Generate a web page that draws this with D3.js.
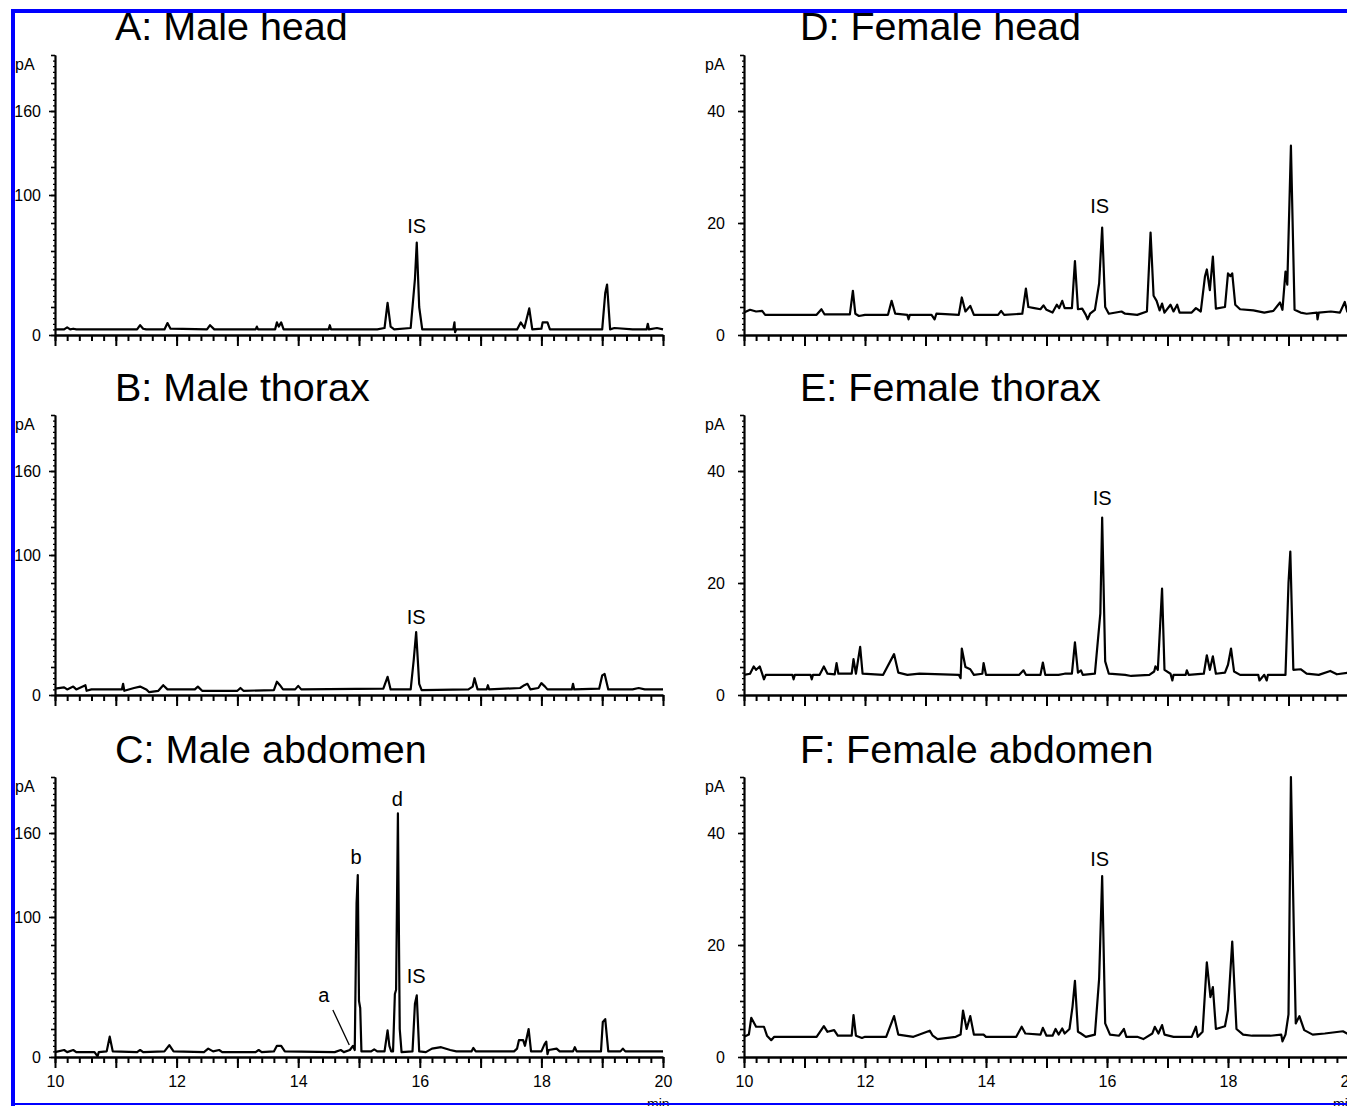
<!DOCTYPE html>
<html>
<head>
<meta charset="utf-8">
<script src="https://cdn.jsdelivr.net/npm/d3@7"></script>
<style>
  body { margin: 0; background: #fff; }
  svg { display: block; }
  text { font-family: "Liberation Sans", Arial, sans-serif; fill: #000; }
</style>
</head>
<body>
<script>
// ---- data: [retention time (min), signal (pA)] ----
var maleHead = [[10.0,4],[10.15,4],[10.2,5.5],[10.25,4],[10.3,4.5],[10.35,4],[11.35,4],[11.4,7],[11.45,4.5],
  [11.5,4],[11.8,4],[11.85,8.5],[11.9,4.5],[12.5,4],[12.55,7],[12.62,4],[13.3,4],[13.32,6],[13.34,4],
  [13.62,4],[13.65,9],[13.68,6],[13.72,9],[13.76,4],[14.5,4],[14.52,7],[14.54,4],[15.3,4],[15.42,5],
  [15.47,23],[15.52,6],[15.58,4],[15.85,5],[15.92,40],[15.95,66],[15.99,20],[16.04,4],[16.55,4],
  [16.57,9],[16.58,2],[16.6,4],[17.6,4],[17.66,9],[17.72,5],[17.8,19],[17.85,4],[18.0,4.5],[18.02,9],
  [18.1,9],[18.14,4],[19.0,4],[19.05,30],[19.08,36],[19.13,4],[19.2,5],[19.5,4],[19.73,4],[19.75,8],
  [19.77,4],[19.9,5],[20,4]];

var maleThorax = [[10,4.5],[10.15,5.5],[10.2,4],[10.3,6],[10.35,4],[10.5,7],[10.52,3],[10.6,4],[11.1,4],
  [11.12,8],[11.14,3],[11.3,5],[11.4,6],[11.5,4],[11.55,2],[11.7,3],[11.78,7],[11.85,4],[12.3,4],
  [12.35,6],[12.42,3],[13.0,3],[13.05,5],[13.1,3],[13.6,3.5],[13.65,9.5],[13.7,7],[13.75,4],[13.95,4],
  [14.0,6.5],[14.05,4],[15.4,4.5],[15.47,13],[15.52,4],[15.85,4],[15.9,25],[15.94,45],[15.99,8],
  [16.03,3.5],[16.8,4],[16.87,6],[16.9,12],[16.95,4],[17.1,4],[17.12,7],[17.14,4],[17.65,5],[17.72,7],
  [17.77,8],[17.82,4],[17.95,5],[18.0,8.5],[18.06,6],[18.1,4],[18.5,4],[18.52,8],[18.54,4],[18.95,4.5],
  [19.0,14],[19.04,15],[19.1,4],[19.5,4],[19.6,5],[19.7,4],[20,4]];

var maleAbdomen = [[10,3.5],[10.15,5],[10.2,3.5],[10.3,5],[10.35,3.5],[10.65,3.5],[10.7,0.5],[10.72,3.5],
  [10.85,4],[10.9,14.5],[10.95,4],[11.35,3.5],[11.4,5],[11.45,3.5],[11.8,4],[11.88,8.5],[11.95,4],
  [12.45,3.5],[12.52,6],[12.6,4],[12.7,5],[12.75,3.5],[13.3,3.5],[13.35,5],[13.4,3.5],[13.6,4],
  [13.65,8],[13.72,8],[13.78,4],[14.6,3.5],[14.7,5],[14.75,3.5],[14.85,5],[14.9,8],[14.93,5],
  [14.96,110],[14.98,130],[15.0,40],[15.02,35],[15.04,4],[15.2,4],[15.25,5.5],[15.3,4],[15.42,4],
  [15.47,19],[15.5,8],[15.53,4],[15.56,4],[15.59,45],[15.61,48],[15.64,174],[15.67,20],[15.7,3.5],
  [15.88,4],[15.92,38],[15.95,44],[15.99,4],[16.1,3.5],[16.2,6],[16.35,7],[16.5,5],[16.6,4],[16.85,4],
  [16.88,6.5],[16.92,4],[17.55,4],[17.6,6],[17.63,12],[17.7,12],[17.73,8],[17.79,20],[17.83,4],
  [18.0,4],[18.05,9],[18.08,11],[18.1,2],[18.12,5],[18.25,6],[18.3,4],[18.52,4],[18.55,7],[18.58,4],
  [18.98,4],[19.01,25],[19.05,27],[19.1,4],[19.3,4],[19.34,6],[19.38,4],[20,4]];

var femaleHead = [[10,4],[10.1,4.5],[10.2,4.2],[10.3,4.3],[10.35,3.6],[11.2,3.6],[11.28,4.6],[11.33,3.7],
  [11.75,3.7],[11.8,7.9],[11.84,3.8],[11.9,3.4],[12.0,3.6],[12.38,3.6],[12.44,6.1],[12.5,3.8],[12.7,3.6],
  [12.72,2.8],[12.74,3.6],[13.1,3.6],[13.15,2.8],[13.18,3.8],[13.55,3.6],[13.6,6.7],[13.66,4.2],
  [13.74,5.2],[13.8,3.6],[14.2,3.6],[14.25,4.3],[14.3,3.6],[14.6,3.8],[14.66,8.3],[14.7,5],[14.8,4.8],
  [14.9,4.6],[14.95,5.3],[15.0,4.5],[15.1,4],[15.17,5.4],[15.21,4.8],[15.26,6.1],[15.3,4.8],[15.42,4.8],
  [15.47,13.2],[15.52,4.6],[15.59,4.7],[15.65,3.6],[15.68,2.8],[15.72,3.8],[15.8,4.5],[15.87,9.2],
  [15.92,19.2],[15.97,5],[16.03,3.8],[16.24,4.2],[16.3,3.8],[16.5,3.6],[16.66,4.2],[16.72,18.3],
  [16.77,7],[16.82,6.1],[16.87,4.4],[16.91,5.6],[16.95,4],[17.05,5.4],[17.1,4.2],[17.16,5.4],[17.2,4],
  [17.4,4],[17.47,4.8],[17.55,4.2],[17.62,10.5],[17.65,11.7],[17.7,8],[17.75,14],[17.8,4.7],[17.95,5],
  [18.0,11],[18.04,10.5],[18.07,11],[18.12,5.4],[18.2,4.6],[18.42,4.4],[18.6,4],[18.75,4.3],[18.86,5.8],
  [18.9,4.5],[18.95,11.3],[18.98,9],[19.04,33.8],[19.1,4.5],[19.2,4],[19.3,3.8],[19.47,4],[19.48,2.8],
  [19.5,4],[19.7,4.2],[19.85,4],[19.93,5.9],[19.97,4.2],[20,4]];

var femaleThorax = [[10,3.6],[10.1,3.8],[10.16,5.1],[10.2,4.5],[10.26,5.1],[10.3,3.8],[10.33,2.8],
  [10.36,3.6],[10.8,3.6],[10.82,2.8],[10.84,3.6],[11.1,3.6],[11.12,2.8],[11.14,3.6],[11.25,3.6],
  [11.32,5.1],[11.38,3.8],[11.5,3.7],[11.53,5.7],[11.56,3.8],[11.78,3.8],[11.81,6.4],[11.85,3.8],
  [11.92,8.6],[11.96,3.8],[12.3,3.6],[12.48,7.3],[12.55,4],[12.7,3.6],[12.9,3.8],[13.55,3.6],[13.58,3],
  [13.6,8.3],[13.66,5],[13.74,4.6],[13.8,3.6],[13.94,3.8],[13.96,5.7],[14.0,3.6],[14.55,3.6],[14.62,4.4],
  [14.66,3.6],[14.9,3.6],[14.94,5.8],[14.98,3.6],[15.2,3.6],[15.3,3.8],[15.42,3.8],[15.47,9.4],[15.52,4],
  [15.57,4.4],[15.6,3.6],[15.8,3.8],[15.89,14.6],[15.92,31.7],[15.97,6],[16.03,3.8],[16.3,3.6],
  [16.4,3.4],[16.7,3.6],[16.78,4.2],[16.8,5.1],[16.84,4.5],[16.91,19],[16.95,4.5],[17.05,3.8],
  [17.08,2.6],[17.1,3.6],[17.3,3.6],[17.32,4.4],[17.35,3.6],[17.6,3.8],[17.65,7.1],[17.7,4.5],
  [17.75,6.9],[17.8,3.8],[17.95,4],[18.0,5.4],[18.05,8.3],[18.1,4.2],[18.2,3.6],[18.5,3.6],[18.52,2.6],
  [18.6,3.6],[18.64,2.6],[18.66,3.6],[18.95,3.6],[19.0,20],[19.03,25.6],[19.08,4.5],[19.2,4.6],
  [19.3,3.8],[19.5,3.6],[19.69,4.3],[19.8,3.7],[20,4]];

var femaleAbdomen = [[10,3.6],[10.08,4],[10.12,7],[10.2,5.4],[10.26,5.4],[10.33,5.4],[10.38,3.8],
  [10.45,3],[10.5,3.6],[11.2,3.6],[11.32,5.5],[11.38,4.5],[11.49,4.8],[11.55,3.8],[11.78,3.8],
  [11.81,7.5],[11.85,3.8],[11.95,3.4],[12.0,3.6],[12.35,3.6],[12.48,7.3],[12.55,4],[12.8,3.6],
  [13.07,4.7],[13.12,3.8],[13.2,3.2],[13.5,3.6],[13.58,4],[13.62,8.3],[13.68,5],[13.74,7.3],[13.8,4],
  [13.96,4],[14.0,3.6],[14.5,3.6],[14.59,5.4],[14.65,4.2],[14.9,4],[14.94,5.2],[15.0,3.8],[15.1,3.8],
  [15.15,5],[15.2,4],[15.26,5.1],[15.3,4.2],[15.38,5],[15.43,9],[15.47,13.6],[15.52,4.5],[15.57,4.2],
  [15.65,3.6],[15.8,4],[15.87,14],[15.92,32.3],[15.97,6],[16.05,4],[16.2,3.8],[16.28,5],[16.32,3.6],
  [16.5,3.6],[16.6,3.2],[16.75,4.2],[16.79,5.4],[16.85,4.2],[16.91,5.7],[16.95,4],[17.1,3.6],
  [17.4,3.6],[17.47,5.4],[17.5,3.6],[17.58,4.5],[17.65,16.9],[17.71,10.7],[17.75,12.5],[17.8,5],
  [17.95,5.5],[18.0,8.4],[18.07,20.6],[18.14,5],[18.25,4],[18.4,3.8],[18.7,3.8],[18.88,4],[18.9,2.8],
  [18.95,4],[19.0,7.6],[19.04,50],[19.09,21.6],[19.12,6],[19.18,7.3],[19.26,4.8],[19.4,4],[19.6,4.2],
  [19.9,4.6],[20,4]];

var titles = ['A: Male head', 'B: Male thorax', 'C: Male abdomen',
              'D: Female head', 'E: Female thorax', 'F: Female abdomen'];
var xTickLabels = [10, 12, 14, 16, 18, 20];
var maleYLabels = [0, 100, 160];
var femaleYLabels = [0, 20, 40];

// peak annotations: [text, time, pA of text baseline]
var labelsA = [['IS', 15.95, 73]];
var labelsB = [['IS', 15.94, 50.7]];
var labelsC = [['a', 14.42, 39.3], ['b', 14.95, 137.9], ['d', 15.63, 179], ['IS', 15.94, 52.9]];
var labelsD = [['IS', 15.88, 21.8]];
var labelsE = [['IS', 15.92, 33.9]];
var labelsF = [['IS', 15.88, 34.1]];
var pointerC = [[14.57, 33.6], [14.84, 8.6]]; // leader line from "a"

// ---- layout ----
var W = 1347, H = 1106;
var svg = d3.select('body').append('svg')
  .attr('width', W)
  .attr('height', H);

var rowBase = [335, 695, 1057];       // pixel row of 0 pA
var colAxis = [55, 744];              // pixel column of y axis
var colEnd = [663, 1349];             // pixel column of 20 min

var panels = [
  {title: titles[0], trace: maleHead, col: 0, row: 0, labels: labelsA},
  {title: titles[1], trace: maleThorax, col: 0, row: 1, labels: labelsB},
  {title: titles[2], trace: maleAbdomen, col: 0, row: 2, labels: labelsC, pointer: pointerC},
  {title: titles[3], trace: femaleHead, col: 1, row: 0, labels: labelsD},
  {title: titles[4], trace: femaleThorax, col: 1, row: 1, labels: labelsE},
  {title: titles[5], trace: femaleAbdomen, col: 1, row: 2, labels: labelsF}
];

panels.forEach(function(p) {
  var male = p.col === 0;
  var y0 = rowBase[p.row];
  var x = d3.scaleLinear().domain([10, 20]).range([colAxis[p.col], colEnd[p.col]]);
  var y = d3.scaleLinear().domain(male ? [0, 200] : [0, 50]).range([y0, y0 - 280]);
  var g = svg.append('g');

  // title
  g.append('text')
    .attr('x', male ? 115 : 800)
    .attr('y', y0 - 295 + (p.row === 0 ? 0 : 1))
    .attr('font-size', 39.5)
    .text(p.title);

  // y axis: fine dots, minor ticks, labelled ticks
  var fine = male ? d3.range(0, 201, 4) : d3.range(0, 51, 1);
  var minor = male ? d3.range(0, 201, 20) : d3.range(0, 51, 5);
  g.append('g')
    .attr('transform', 'translate(' + colAxis[p.col] + ',0)')
    .call(d3.axisLeft(y).tickValues(fine).tickSize(2).tickSizeOuter(0).tickFormat(''))
    .call(function(a) { a.selectAll('line').attr('stroke-width', 1.2); });
  g.append('g')
    .attr('transform', 'translate(' + colAxis[p.col] + ',0)')
    .call(d3.axisLeft(y).tickValues(minor).tickSize(4).tickSizeOuter(0).tickFormat(''))
    .call(function(a) { a.selectAll('line').attr('stroke-width', 1.6); });
  var yAx = g.append('g')
    .attr('transform', 'translate(' + colAxis[p.col] + ',0)')
    .call(d3.axisLeft(y).tickValues(male ? maleYLabels : femaleYLabels)
      .tickSize(6).tickSizeOuter(0).tickPadding(male ? 8 : 13).tickFormat(d3.format('d')));
  yAx.selectAll('text').attr('font-size', 16).attr('font-family', '"Liberation Sans", Arial, sans-serif');
  yAx.select('.domain').attr('stroke-width', 2.2);
  yAx.selectAll('line').attr('stroke-width', 1.6);

  g.append('text')
    .attr('x', male ? 15 : 705)
    .attr('y', y0 - 265)
    .attr('font-size', 16)
    .text('pA');

  // x axis
  g.append('g')
    .attr('transform', 'translate(0,' + y0 + ')')
    .call(d3.axisBottom(x).tickValues(d3.range(10, 20.01, 0.2)).tickSize(6).tickSizeOuter(0).tickFormat(''))
    .call(function(a) {
      a.selectAll('line').attr('stroke-width', 2);
      a.select('.domain').attr('stroke-width', 2.4);
    });
  var xAx = g.append('g')
    .attr('transform', 'translate(0,' + y0 + ')')
    .call(d3.axisBottom(x).tickValues(d3.range(10, 20.01, 1)).tickSize(11).tickSizeOuter(0)
      .tickPadding(8).tickFormat(function(d) {
        return (p.row === 2 && xTickLabels.indexOf(Math.round(d)) >= 0) ? Math.round(d) : '';
      }));
  xAx.select('.domain').remove();
  xAx.selectAll('line').attr('stroke-width', 2);
  xAx.selectAll('text').attr('font-size', 16).attr('font-family', '"Liberation Sans", Arial, sans-serif');

  if (p.row === 2) {
    g.append('text')
      .attr('x', x(20) - 16)
      .attr('y', 1109)
      .attr('font-size', 14)
      .text('min');
  }

  // trace
  var line = d3.line()
    .x(function(d) { return x(d[0]); })
    .y(function(d) { return y(d[1]); });
  g.append('path')
    .datum(p.trace)
    .attr('d', line)
    .attr('fill', 'none')
    .attr('stroke', '#000')
    .attr('stroke-width', 2.2)
    .attr('stroke-linejoin', 'round');

  // peak labels
  g.selectAll('.peak')
    .data(p.labels)
    .enter()
    .append('text')
    .attr('x', function(d) { return x(d[1]); })
    .attr('y', function(d) { return y(d[2]); })
    .attr('text-anchor', 'middle')
    .attr('font-size', 20)
    .text(function(d) { return d[0]; });

  if (p.pointer) {
    g.append('path')
      .datum(p.pointer)
      .attr('d', line)
      .attr('stroke', '#000')
      .attr('stroke-width', 1.3);
  }
});

// blue frame of the scanned figure
svg.append('rect').attr('x', 11).attr('y', 9).attr('width', W - 11).attr('height', 4).attr('fill', '#0000ff');
svg.append('rect').attr('x', 11).attr('y', 9).attr('width', 4).attr('height', H - 9).attr('fill', '#0000ff');
svg.append('rect').attr('x', 11).attr('y', 1103).attr('width', W - 11).attr('height', 2).attr('fill', '#0000ff');
</script>
</body>
</html>
